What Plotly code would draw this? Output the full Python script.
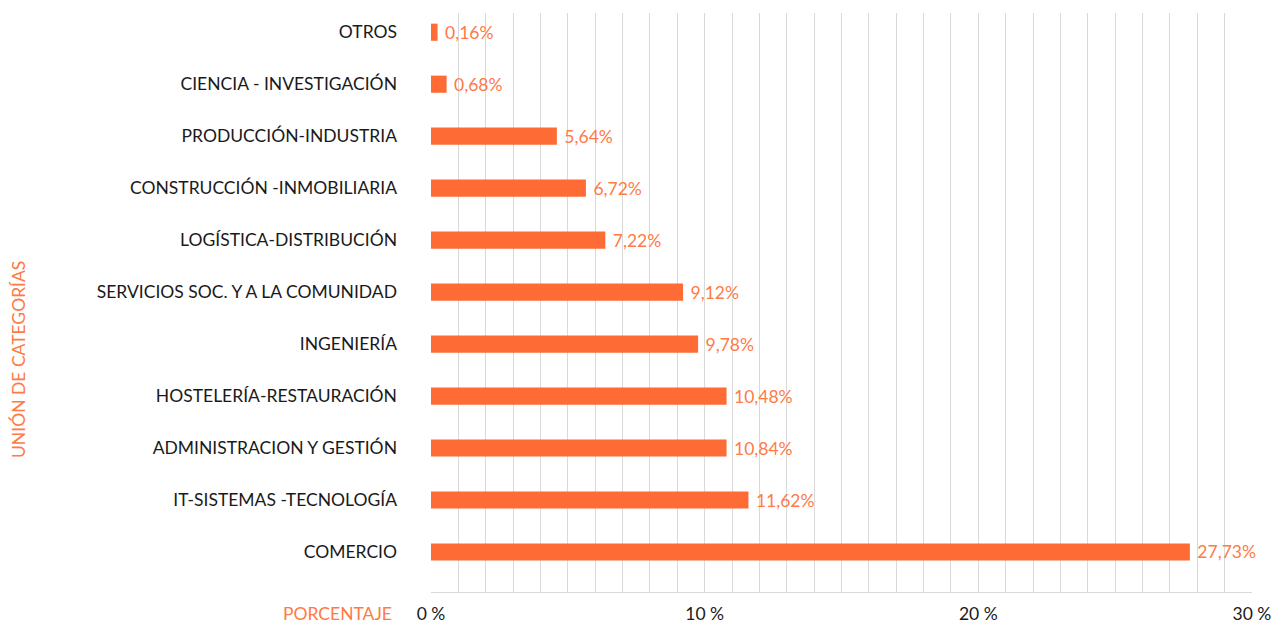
import plotly.graph_objects as go

categories = ["COMERCIO", "IT-SISTEMAS -TECNOLOGÍA", "ADMINISTRACION Y GESTIÓN",
              "HOSTELERÍA-RESTAURACIÓN", "INGENIERÍA", "SERVICIOS SOC. Y A LA COMUNIDAD",
              "LOGÍSTICA-DISTRIBUCIÓN", "CONSTRUCCIÓN -INMOBILIARIA", "PRODUCCIÓN-INDUSTRIA",
              "CIENCIA - INVESTIGACIÓN", "OTROS"]
# bar lengths as drawn in the reference picture
bar_values = [27.73, 11.60, 10.80, 10.80, 9.76, 9.21, 6.37, 5.66, 4.60, 0.57, 0.24]
# percentages printed as data labels in the reference
label_values = [27.73, 11.62, 10.84, 10.48, 9.78, 9.12, 7.22, 6.72, 5.64, 0.68, 0.16]
tick_vals = [0, 10, 20, 30]
tick_text = ["0 %", "10 %", "20 %", "30 %"]

labels = [f"{v:.2f}%".replace(".", ",") for v in label_values]
orange = "#FF6B35"
label_orange = "#FF7A45"
font = "Lato, 'Source Sans Pro', 'Open Sans', sans-serif"
fs = 17.5

fig = go.Figure(go.Bar(
    x=bar_values, y=categories, orientation="h",
    marker=dict(color=orange, line=dict(width=0)),
    width=0.33,
    text=labels, texttemplate="\u00a0%{text}",
    textposition="outside", constraintext="none",
    textfont=dict(color=label_orange, size=fs, family=font),
    cliponaxis=False, hoverinfo="skip",
))

L, R, T, B = 431, 22, 13, 31
W, H = 1274, 623
pw = W - L - R
ph = H - T - B

fig.update_layout(
    width=W, height=H,
    margin=dict(l=L, r=R, t=T, b=B, autoexpand=False),
    paper_bgcolor="white", plot_bgcolor="white",
    font=dict(family=font, size=fs, color="#1a1a1a"),
    showlegend=False,
    xaxis=dict(range=[0, 30], tickmode="array", tickvals=tick_vals, ticktext=tick_text,
               showgrid=True, gridcolor="#d9d9d9", gridwidth=1,
               minor=dict(dtick=1, showgrid=True, gridcolor="#d9d9d9", gridwidth=1),
               showline=True, linecolor="#d9d9d9", linewidth=1,
               zeroline=False, ticks="", ticklabelstandoff=6, automargin=False,
               tickfont=dict(size=fs, color="#1a1a1a")),
    yaxis=dict(range=[-0.77, 10.37], showgrid=False, zeroline=False, automargin=False,
               ticks="", ticklabelstandoff=33,
               tickfont=dict(size=fs, color="#1a1a1a")),
    annotations=[
        dict(text="PORCENTAJE", x=(394 - L) / pw, y=(592 - 613) / ph,
             xref="paper", yref="paper", xanchor="right", yanchor="middle",
             showarrow=False, font=dict(color=label_orange, size=fs, family=font)),
        dict(text="UNIÓN DE CATEGORÍAS", x=(18 - L) / pw, y=(592 - 360) / ph,
             xref="paper", yref="paper", xanchor="center", yanchor="middle",
             textangle=-90, showarrow=False,
             font=dict(color=label_orange, size=fs, family=font)),
    ],
)

fig.write_html("out.html", config={"displayModeBar": False},
               post_script="document.body.style.margin='0';document.body.style.overflow='hidden';")
